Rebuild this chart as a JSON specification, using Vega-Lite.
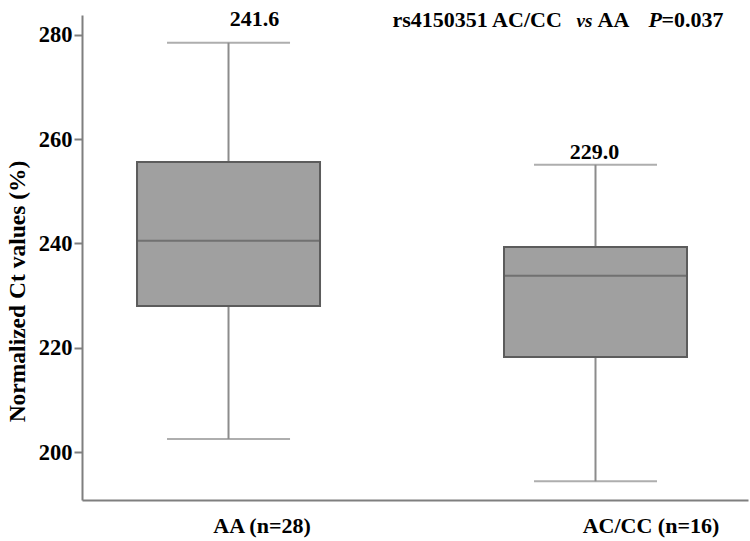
{
  "$schema": "https://vega.github.io/schema/vega-lite/v6.json",
  "width": 666,
  "height": 485,
  "autosize": {"type": "none"},
  "padding": {"left": 82, "top": 15, "right": 2, "bottom": 41},
  "background": "white",
  "config": {
    "view": {"stroke": null},
    "font": "Liberation Serif",
    "text": {"font": "Liberation Serif", "fontSize": 22, "fontWeight": "bold", "color": "black"}
  },
  "data": {
    "values": [
      {"group": "AA (n=28)", "lower": 202.5, "q1": 228.0, "median": 240.5, "q3": 255.6, "upper": 278.5, "mean": 241.6},
      {"group": "AC/CC (n=16)", "lower": 194.4, "q1": 218.2, "median": 233.8, "q3": 239.3, "upper": 255.1, "mean": 229.0}
    ]
  },
  "encoding": {
    "x": {
      "field": "group",
      "type": "nominal",
      "sort": null,
      "scale": {"type": "point", "domain": ["AA (n=28)", "AC/CC (n=16)"], "padding": 0.4074, "align": 0.49},
      "axis": {
        "title": null,
        "labelAngle": 0,
        "ticks": false,
        "tickSize": 0,
        "labelPadding": 15,
        "labelFont": "Liberation Serif",
        "labelFontSize": 22,
        "labelFontWeight": "bold",
        "labelColor": "black",
        "labelOffset": {"condition": {"test": "datum.value === 'AA (n=28)'", "value": 33}, "value": 55},
        "domainColor": "#7f7f7f",
        "domainWidth": 2,
        "grid": false
      }
    }
  },
  "layer": [
    {
      "mark": {"type": "rule", "color": "#8c8c8c", "strokeWidth": 2},
      "encoding": {
        "y": {
          "field": "lower",
          "type": "quantitative",
          "scale": {"domain": [190.8, 283.8], "nice": false, "zero": false},
          "axis": {
            "title": "Normalized Ct values (%)",
            "titleFont": "Liberation Serif",
            "titleFontSize": 23.5,
            "titleFontWeight": "bold",
            "titleColor": "black",
            "titlePadding": 9,
            "titleY": 276,
            "values": [200, 220, 240, 260, 280],
            "labelFont": "Liberation Serif",
            "labelFontSize": 22.5,
            "labelFontWeight": "bold",
            "labelColor": "black",
            "labelPadding": 2,
            "tickSize": 8,
            "tickWidth": 2,
            "tickColor": "#7f7f7f",
            "domainColor": "#7f7f7f",
            "domainWidth": 2,
            "grid": false
          }
        },
        "y2": {"field": "upper"}
      }
    },
    {
      "mark": {"type": "bar", "size": 183, "fill": "#a0a0a0", "stroke": "#5c5c5c", "strokeWidth": 2},
      "encoding": {
        "y": {"field": "q1", "type": "quantitative"},
        "y2": {"field": "q3"}
      }
    },
    {
      "mark": {"type": "tick", "size": 183, "thickness": 2, "color": "#5c5c5c"},
      "encoding": {"y": {"field": "median", "type": "quantitative"}}
    },
    {
      "mark": {"type": "tick", "size": 123, "thickness": 2, "color": "#8c8c8c"},
      "encoding": {"y": {"field": "upper", "type": "quantitative"}}
    },
    {
      "mark": {"type": "tick", "size": 123, "thickness": 2, "color": "#8c8c8c"},
      "encoding": {"y": {"field": "lower", "type": "quantitative"}}
    },
    {
      "transform": [{"filter": "datum.group === 'AA (n=28)'"}],
      "mark": {"type": "text", "align": "center", "baseline": "alphabetic", "dx": 26, "dy": -17},
      "encoding": {
        "y": {"field": "upper", "type": "quantitative"},
        "text": {"field": "mean", "type": "quantitative", "format": ".1f"}
      }
    },
    {
      "transform": [{"filter": "datum.group === 'AC/CC (n=16)'"}],
      "mark": {"type": "text", "align": "center", "baseline": "alphabetic", "dx": -1, "dy": -6},
      "encoding": {
        "y": {"field": "upper", "type": "quantitative"},
        "text": {"field": "mean", "type": "quantitative", "format": ".1f"}
      }
    },
    {
      "data": {"values": [{"label": "rs4150351 AC/CC"}]},
      "mark": {"type": "text", "align": "left", "baseline": "alphabetic", "dx": -203},
      "encoding": {
        "x": {"datum": "AC/CC (n=16)"},
        "y": {"datum": 281.5},
        "text": {"field": "label"}
      }
    },
    {
      "data": {"values": [{"label": "vs"}]},
      "mark": {"type": "text", "align": "left", "baseline": "alphabetic", "dx": -19, "fontStyle": "italic", "fontSize": 19},
      "encoding": {
        "x": {"datum": "AC/CC (n=16)"},
        "y": {"datum": 281.5},
        "text": {"field": "label"}
      }
    },
    {
      "data": {"values": [{"label": "AA"}]},
      "mark": {"type": "text", "align": "left", "baseline": "alphabetic", "dx": 2},
      "encoding": {
        "x": {"datum": "AC/CC (n=16)"},
        "y": {"datum": 281.5},
        "text": {"field": "label"}
      }
    },
    {
      "data": {"values": [{"label": "P"}]},
      "mark": {"type": "text", "align": "left", "baseline": "alphabetic", "dx": 53, "fontStyle": "italic"},
      "encoding": {
        "x": {"datum": "AC/CC (n=16)"},
        "y": {"datum": 281.5},
        "text": {"field": "label"}
      }
    },
    {
      "data": {"values": [{"label": "=0.037"}]},
      "mark": {"type": "text", "align": "left", "baseline": "alphabetic", "dx": 66},
      "encoding": {
        "x": {"datum": "AC/CC (n=16)"},
        "y": {"datum": 281.5},
        "text": {"field": "label"}
      }
    }
  ]
}
